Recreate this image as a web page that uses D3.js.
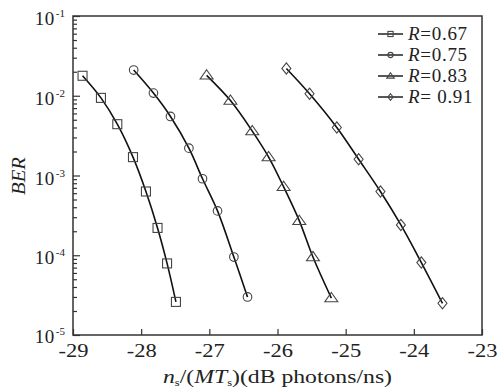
<!DOCTYPE html>
<html><head><meta charset="utf-8">
<script src="https://cdn.jsdelivr.net/npm/d3@7"></script>
<style>
body{margin:0;background:#fff;}
svg{display:block;}
</style></head>
<body><svg id="c" width="497" height="392"></svg>
<script>
const seriesNames = ["R=0.67","R=0.75","R=0.83","R= 0.91"];
const seriesValues = ["0.67","0.75","0.83"," 0.91"];
const markerTypes = ["square","circle","triangle","diamond"];
const x67 = [-28.86,-28.59,-28.35,-28.12,-27.93,-27.76,-27.62,-27.49];
const y67 = [0.0178,0.0094,0.0044,0.0017,6.3e-4,2.2e-4,7.9e-5,2.6e-5];
const x75 = [-28.11,-27.82,-27.57,-27.30,-27.10,-26.88,-26.64,-26.44];
const y75 = [0.021,0.0108,0.0055,0.0022,9.1e-4,3.6e-4,9.5e-5,3.0e-5];
const x83 = [-27.04,-26.69,-26.37,-26.13,-25.91,-25.68,-25.48,-25.21];
const y83 = [0.018,0.0087,0.0036,0.0017,7.2e-4,2.7e-4,9.5e-5,2.9e-5];
const x91 = [-25.87,-25.53,-25.13,-24.81,-24.49,-24.19,-23.89,-23.58];
const y91 = [0.022,0.0106,0.0040,0.0016,6.3e-4,2.4e-4,8.1e-5,2.5e-5];
const xTicks = [-29,-28,-27,-26,-25,-24,-23];
const yExps = [-1,-2,-3,-4,-5];

const FONT = "'Liberation Serif','Times New Roman',serif";
const xs = [x67,x75,x83,x91], ys = [y67,y75,y83,y91];
const svg = d3.select("#c");
const L=73, R=482, T=16, B=335;
const x = d3.scaleLinear().domain([-29,-23]).range([L,R]);
const y = d3.scaleLog().domain([1e-5,1e-1]).range([B,T]);
const axisCol = "#333";
const txtCol = "#222";

// minor y ticks
const minor = [];
for (let e=-5;e<-1;e++) for (let m=2;m<=9;m++) minor.push(m*Math.pow(10,e));
const gMinor = svg.append("g").attr("transform",`translate(${L},0)`)
  .call(d3.axisLeft(y).tickValues(minor).tickSize(-4).tickFormat(""));
const gMajor = svg.append("g").attr("transform",`translate(${L},0)`)
  .call(d3.axisLeft(y).tickValues(yExps.map(e=>Math.pow(10,e))).tickSize(-7).tickFormat(""));
[gMinor,gMajor].forEach(g=>{g.select(".domain").remove();g.selectAll("line").attr("stroke",axisCol).attr("stroke-width",1.2);});

// y labels
yExps.forEach(e=>{
  const t = svg.append("text").attr("x",65).attr("y",y(Math.pow(10,e))+(e===-5?8:9))
    .attr("text-anchor","end").style("font-size","19px").style("font-family",FONT).attr("fill",txtCol);
  t.append("tspan").style("letter-spacing","0.5px").text("10");
  t.append("tspan").style("font-size","11px").attr("dx",1).attr("dy",-8).text(String(e));
});

// x axis
const gx = svg.append("g").attr("transform",`translate(0,${B})`)
  .call(d3.axisBottom(x).tickValues(xTicks).tickSize(-6).tickPadding(9).tickFormat(d=>String(d)));
gx.attr("font-family",null).attr("font-size",null);
gx.select(".domain").remove();
gx.selectAll("line").attr("stroke",axisCol).attr("stroke-width",1.2);
gx.selectAll("text").style("font-size","19px").attr("fill",txtCol).style("font-family",FONT)
  .attr("textLength",30).attr("lengthAdjust","spacingAndGlyphs");

// frame
svg.append("rect").attr("x",L).attr("y",T).attr("width",R-L).attr("height",B-T)
  .attr("fill","none").attr("stroke",axisCol).attr("stroke-width",1.5);

// axis titles
svg.append("text").attr("transform","translate(25,176) rotate(-90)").attr("text-anchor","middle")
  .style("font-size","19px").style("font-family",FONT).style("font-style","italic").attr("fill",txtCol)
  .attr("textLength",38).attr("lengthAdjust","spacingAndGlyphs").text("BER");
const xl = svg.append("text").attr("x",(L+R)/2).attr("y",383).attr("text-anchor","middle")
  .style("font-size","19px").style("font-family",FONT).attr("fill",txtCol)
  .attr("textLength",229).attr("lengthAdjust","spacingAndGlyphs");
xl.append("tspan").style("font-style","italic").text("n");
xl.append("tspan").style("font-size","10px").attr("dy",3).text("s");
xl.append("tspan").attr("dy",-3).text("/(");
xl.append("tspan").style("font-style","italic").text("MT");
xl.append("tspan").style("font-size","10px").attr("dy",3).text("s");
xl.append("tspan").attr("dy",-3).text(")(dB photons/ns)");

function marker(g, type, cx, cy, s){
  const st = {fill:"none",stroke:"#444","stroke-width":1.1};
  let el;
  if(type==="square") el=g.append("rect").attr("x",cx-s).attr("y",cy-s).attr("width",2*s).attr("height",2*s);
  else if(type==="circle") el=g.append("circle").attr("cx",cx).attr("cy",cy).attr("r",s);
  else if(type==="triangle"){const h=s*1.25;el=g.append("path").attr("d",`M${cx},${cy-h}L${cx+h*1.15},${cy+h*0.65}L${cx-h*1.15},${cy+h*0.65}Z`);}
  else el=g.append("path").attr("d",`M${cx},${cy-s*1.25}L${cx+s},${cy}L${cx},${cy+s*1.25}L${cx-s},${cy}Z`);
  Object.entries(st).forEach(([k,v])=>el.attr(k,v));
}

const line = d3.line().x(d=>x(d[0])).y(d=>y(d[1])).curve(d3.curveCatmullRom.alpha(0.5));
xs.forEach((xa,i)=>{
  const pts = xa.map((v,j)=>[v,ys[i][j]]);
  svg.append("path").datum(pts).attr("d",line).attr("fill","none").attr("stroke","#111").attr("stroke-width",1.6);
  const g = svg.append("g");
  pts.forEach(p=>marker(g, markerTypes[i], x(p[0]), y(p[1]), markerTypes[i]==="circle"?4.3:4.5));
});

// legend
const rows=[34,55,76,97];
seriesNames.forEach((n,i)=>{
  const ry=rows[i];
  svg.append("line").attr("x1",378).attr("x2",403).attr("y1",ry).attr("y2",ry).attr("stroke","#111").attr("stroke-width",1.4);
  marker(svg, markerTypes[i], 390.5, ry, 2.6);
  const t=svg.append("text").attr("x",408).attr("y",ry+6).style("font-size","19px").style("font-family",FONT)
    .style("letter-spacing","0.7px").attr("fill",txtCol);
  t.append("tspan").style("font-style","italic").text("R");
  t.append("tspan").text("="+seriesValues[i]);
});
</script></body></html>
